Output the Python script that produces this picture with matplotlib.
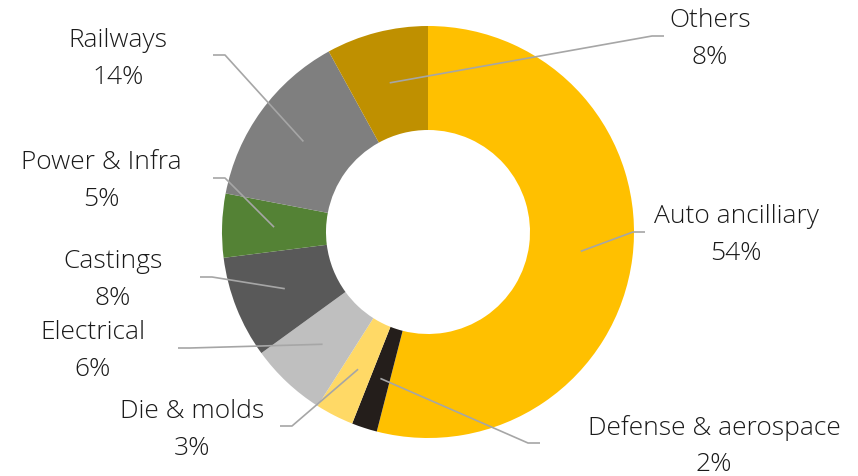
import numpy as np
import matplotlib
matplotlib.use("Agg")
import matplotlib.pyplot as plt

categories = ["Auto ancilliary", "Defense & aerospace", "Die & molds", "Electrical",
              "Castings", "Power & Infra", "Railways", "Others"]
values = [54, 2, 3, 6, 8, 5, 14, 8]
colors = ["#FFC000", "#241E1B", "#FFD966", "#BFBFBF", "#595959", "#548235", "#7F7F7F", "#BF9000"]

# layout (pixel coordinates, y from top)
W, H = 858, 476
cx, cy = 428, 232
R_out, R_in = 206, 102
label_xy = [(736, 235), (714, 446), (192, 430), (93, 351), (113, 280), (101, 181), (118, 59), (710, 39)]
elbow_xy = [(633, 232), (528, 443), (292, 426), (190, 348), (212, 277), (225, 178), (225, 55), (652, 36)]
elbow_dir = [1, 1, -1, -1, -1, -1, -1, 1]

plt.rcParams['font.family'] = ['Open Sans', 'DejaVu Sans']
fig = plt.figure(figsize=(W / 100, H / 100), dpi=100)
ax = fig.add_axes([0, 0, 1, 1])
ax.set_xlim(0, W)
ax.set_ylim(0, H)
ax.axis('off')

wedges, _ = ax.pie(values, colors=colors, startangle=90, counterclock=False,
                   center=(cx, H - cy), radius=R_out,
                   wedgeprops=dict(width=R_out - R_in, linewidth=0))
ax.set_xlim(0, W)
ax.set_ylim(0, H)
ax.set_aspect('equal')

r_mid = (R_out + R_in) / 2
for w, cat, v, (lx, ly), (ex, ey), d in zip(wedges, categories, values, label_xy, elbow_xy, elbow_dir):
    ang = np.deg2rad((w.theta1 + w.theta2) / 2)
    sx = cx + r_mid * np.cos(ang)
    sy = (H - cy) + r_mid * np.sin(ang)
    ax.plot([sx, ex, ex + 12 * d], [sy, H - ey, H - ey], color="#A6A6A6", lw=1.2,
            solid_capstyle='butt', zorder=3)
    ax.text(lx, H - ly, f"{cat}\n{v}%", ha='center', va='center', fontsize=19,
            color="#1A1A1A", linespacing=1.62, fontweight='light')

fig.savefig("out.png", dpi=100)
